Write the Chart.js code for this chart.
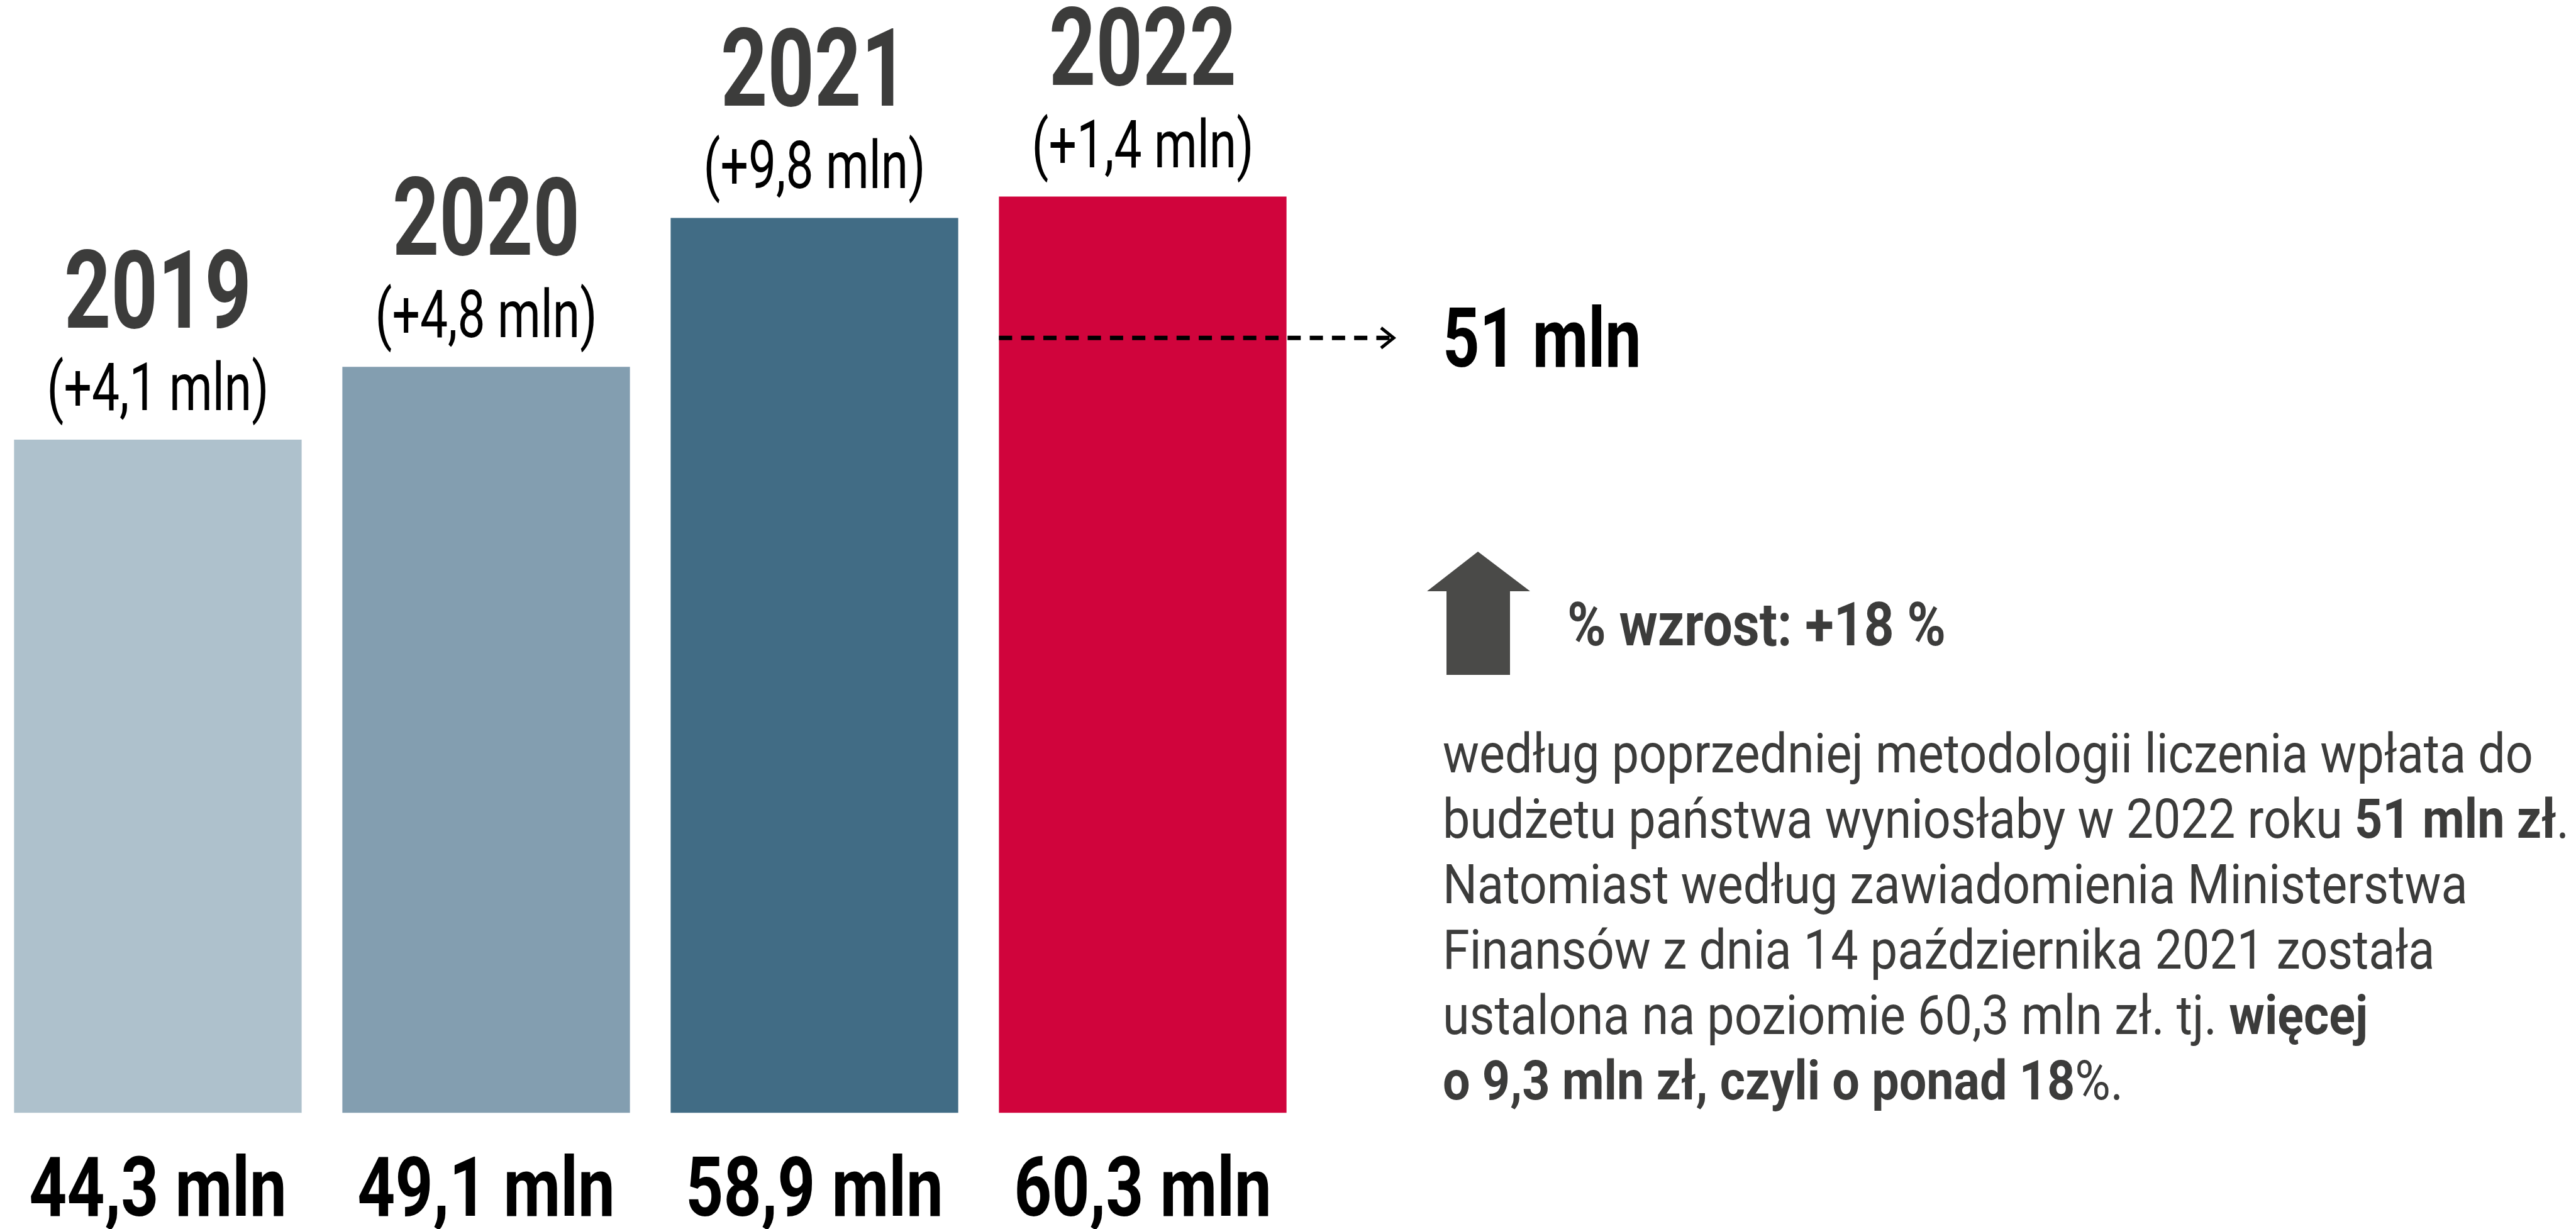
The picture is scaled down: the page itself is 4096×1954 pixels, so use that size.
<!DOCTYPE html>
<html lang="pl">
<head>
<meta charset="UTF-8">
<title>Wpłata do budżetu państwa</title>
<script src="https://cdn.jsdelivr.net/npm/chart.js@4.4.1/dist/chart.umd.min.js"></script>
<style>
    html, body { margin: 0; padding: 0; background: #fff; overflow: hidden; }
    body { width: 4096px; height: 1954px; position: relative; font-family: Roboto, sans-serif; }
    #wrap { position: absolute; left: -10px; top: 0; width: 4106px; height: 1954px; }
    .note { position: absolute; color: #3c3c3b; white-space: nowrap; transform-origin: left top; }
    #growth { left: 2492px; top: 945px; font-size: 96px; line-height: 96px; font-weight: 700; transform: scaleX(0.87); }
    #desc { left: 2294px; top: 1146px; font-size: 88px; line-height: 104px; font-weight: 400; transform: scaleX(0.878); }
    #desc b { font-weight: 700; }
</style>
</head>
<body>
<div id="wrap"><canvas id="chart" width="4106" height="1954"></canvas></div>
<div class="note" id="growth">% wzrost: +18 %</div>
<div class="note" id="desc">według poprzedniej metodologii liczenia wpłata do<br>budżetu państwa wyniosłaby w 2022 roku <b>51 mln zł</b>.<br>Natomiast według zawiadomienia Ministerstwa<br>Finansów z dnia 14 października 2021 została<br>ustalona na poziomie 60,3 mln zł. tj. <b>więcej</b><br><b>o 9,3 mln zł, czyli o ponad 18</b>%.</div>
<script>
    // dane
    const years = ['2019', '2020', '2021', '2022'];
    const values = [44.3, 49.1, 58.9, 60.3];
    const changes = ['(+4,1 mln)', '(+4,8 mln)', '(+9,8 mln)', '(+1,4 mln)'];
    const valueLabels = ['44,3 mln', '49,1 mln', '58,9 mln', '60,3 mln'];
    const oldMethodValue = 51;
    const oldMethodLabel = '51 mln';
    const barColors = ['#aec1cc', '#839eb0', '#416c85', '#d0043c'];

    function condText(ctx, text, x, y, font, color, sx, align) {
        ctx.save();
        ctx.font = font;
        ctx.fillStyle = color;
        ctx.textAlign = align || 'center';
        ctx.textBaseline = 'alphabetic';
        ctx.translate(x, y);
        ctx.scale(sx, 1);
        ctx.fillText(text, 0, 0);
        ctx.restore();
    }

    const labelsPlugin = {
        id: 'labels',
        afterDatasetsDraw(chart) {
            const ctx = chart.ctx;
            const meta = chart.getDatasetMeta(0);
            const y = chart.scales.y;
            const base = y.getPixelForValue(0);

            meta.data.forEach(function (bar, i) {
                condText(ctx, years[i], bar.x, bar.y - 178, '700 173px Roboto', '#3c3c3b', 0.75);
                condText(ctx, changes[i], bar.x, bar.y - 47, '400 106px Roboto', '#000', 0.74);
                condText(ctx, valueLabels[i], bar.x, base + 164, '700 131px Roboto', '#000', 0.8);
            });

            // przerywana linia 51 mln
            const last = meta.data[meta.data.length - 1];
            const yl = y.getPixelForValue(oldMethodValue);
            const x0 = last.x - last.width / 2;
            const x1 = 2226;
            ctx.save();
            ctx.strokeStyle = '#000';
            ctx.lineWidth = 7;
            ctx.setLineDash([21, 14.3]);
            ctx.beginPath();
            ctx.moveTo(x0, yl);
            ctx.lineTo(x1 - 4, yl);
            ctx.stroke();
            ctx.setLineDash([]);
            ctx.lineWidth = 5;
            ctx.beginPath();
            ctx.moveTo(x1 - 20, yl - 16);
            ctx.lineTo(x1, yl);
            ctx.lineTo(x1 - 20, yl + 16);
            ctx.stroke();
            ctx.restore();
            condText(ctx, oldMethodLabel, 2304, yl + 46, '700 131px Roboto', '#000', 0.78, 'left');

            // strzałka w górę
            ctx.save();
            ctx.fillStyle = '#4a4a48';
            ctx.beginPath();
            ctx.moveTo(2360, 877);
            ctx.lineTo(2443, 940);
            ctx.lineTo(2411, 940);
            ctx.lineTo(2411, 1073);
            ctx.lineTo(2310, 1073);
            ctx.lineTo(2310, 940);
            ctx.lineTo(2279, 940);
            ctx.closePath();
            ctx.fill();
            ctx.restore();
        }
    };

    new Chart(document.getElementById('chart').getContext('2d'), {
        type: 'bar',
        data: {
            labels: years,
            datasets: [{
                data: values,
                backgroundColor: barColors,
                borderWidth: 0,
                categoryPercentage: 1,
                barPercentage: 0.876
            }]
        },
        options: {
            responsive: false,
            animation: false,
            devicePixelRatio: 1,
            layout: { padding: { left: 0, right: 2018, top: 78.2, bottom: 184.6 } },
            plugins: { legend: { display: false }, tooltip: { enabled: false } },
            scales: {
                x: { display: false },
                y: { display: false, min: 0, max: 70 }
            }
        },
        plugins: [labelsPlugin]
    });
</script>
</body>
</html>
